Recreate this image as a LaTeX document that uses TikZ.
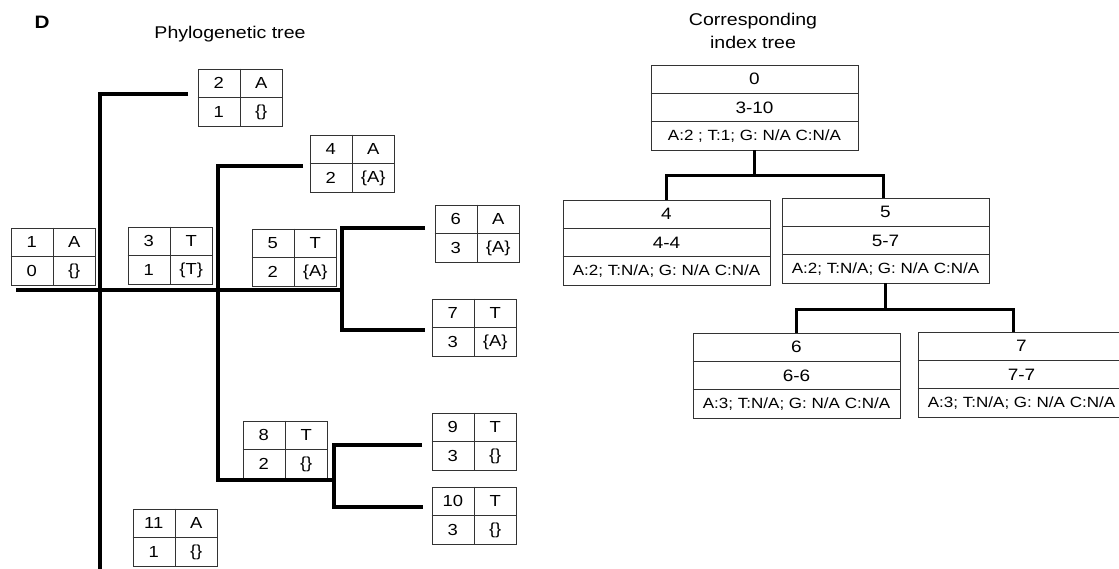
\documentclass[tikz,border=0pt]{standalone}
\usepackage{fontspec}
\setmainfont{Liberation Sans}[FakeStretch=1.15]
\usetikzlibrary{calc}
\tikzset{
  br/.style={line width=3.8pt, line join=miter},
  pb/.style={draw=black!80, line width=0.9pt, minimum width=84pt, minimum height=57pt, inner sep=0pt},
  ib/.style={draw=black!80, line width=0.9pt, minimum width=207pt, minimum height=85pt, inner sep=0pt},
  pbl/.style={draw=black!80, line width=0.9pt},
  ptx/.style={inner sep=0pt, font=\fontsize{16}{19}\selectfont},
  bigtx/.style={inner sep=0pt, font=\fontsize{16.5}{19}\selectfont},
  smtx/.style={inner sep=0pt, font=\fontsize{14.8}{17}\selectfont},
  ttl/.style={inner sep=0pt, align=center, font=\fontsize{17}{23}\selectfont}
}
\newcommand\pbox[7]{%
  \node[pb] (#1) at (#2+42,#3+28.5) {};
  \draw[pbl] (#1.north) -- (#1.south) (#1.west) -- (#1.east);
  \node[ptx] (#1-a) at ($(#1.north west)!0.5!(#1.center)$) {#4};
  \node[ptx] (#1-b) at ($(#1.north east)!0.5!(#1.center)$) {#5};
  \node[ptx] (#1-c) at ($(#1.south west)!0.5!(#1.center)$) {#6};
  \node[ptx] (#1-d) at ($(#1.south east)!0.5!(#1.center)$) {#7};
}
\newcommand\ibox[6]{%
  \node[ib] (#1) at (#2+103.5,#3+42.5) {};
  \draw[pbl] ($(#1.north west)!1/3!(#1.south west)$) -- ($(#1.north east)!1/3!(#1.south east)$)
             ($(#1.north west)!2/3!(#1.south west)$) -- ($(#1.north east)!2/3!(#1.south east)$);
  \node[bigtx] (#1-a) at ($(#1.north)!1/6!(#1.south)$) {#4};
  \node[bigtx] (#1-b) at ($(#1.north)!1/2!(#1.south)$) {#5};
  \node[smtx] (#1-c) at ($(#1.north)!5/6!(#1.south)$) {#6};
}
\begin{document}
\begin{tikzpicture}[x=1pt,y=-1pt]
\useasboundingbox (0,0) rectangle (1119,569);
% labels
\node[inner sep=0pt, font=\bfseries\fontsize{18}{21}\selectfont] (lblD) at (42,22) {D};
\node[ttl] (ttlP) at (230,34) {Phylogenetic tree};
\node[ttl] (ttlI) at (753,31) {Corresponding\\index tree};
% phylogenetic tree boxes
\pbox{p1}{11}{228}{1}{A}{0}{\{\}}
\pbox{p2}{198}{69}{2}{A}{1}{\{\}}
\pbox{p3}{128}{227}{3}{T}{1}{\{T\}}
\pbox{p4}{310}{135}{4}{A}{2}{\{A\}}
\pbox{p5}{252}{229}{5}{T}{2}{\{A\}}
\pbox{p6}{435}{205}{6}{A}{3}{\{A\}}
\pbox{p7}{432}{299}{7}{T}{3}{\{A\}}
\pbox{p8}{243}{421}{8}{T}{2}{\{\}}
\pbox{p9}{432}{413}{9}{T}{3}{\{\}}
\pbox{p10}{432}{487}{10}{T}{3}{\{\}}
\pbox{p11}{133}{509}{11}{A}{1}{\{\}}
% phylogenetic tree branches
\coordinate (r0) at (16,290);
\coordinate (j3) at (342,290);
\coordinate (e2) at (188,94);
\coordinate (v1t) at (100,94);
\coordinate (v1b) at (100,575);
\coordinate (e4) at (303,166);
\coordinate (v2t) at (218,166);
\coordinate (v2b) at (218,480);
\coordinate (j8) at (334,480);
\coordinate (e6) at (425,228);
\coordinate (v3t) at (342,228);
\coordinate (v3b) at (342,330);
\coordinate (e7) at (425,330);
\coordinate (e9) at (422,445);
\coordinate (v4t) at (334,445);
\coordinate (v4b) at (334,507);
\coordinate (e10) at (423,507);
\draw[br] (r0) -- (j3);
\draw[br] (e2) -- (v1t) -- (v1b);
\draw[br] (e4) -- (v2t) -- (v2b) -- (j8);
\draw[br] (e6) -- (v3t) -- (v3b) -- (e7);
\draw[br] (e9) -- (v4t) -- (v4b) -- (e10);
% index tree
\ibox{i0}{651}{65}{0}{3-10}{A:2 ; T:1; G: N/A C:N/A}
\ibox{i4}{563}{200}{4}{4-4}{A:2; T:N/A; G: N/A C:N/A}
\ibox{i5}{782}{198}{5}{5-7}{A:2; T:N/A; G: N/A C:N/A}
\ibox{i6}{693}{333}{6}{6-6}{A:3; T:N/A; G: N/A C:N/A}
\ibox{i7}{918}{332}{7}{7-7}{A:3; T:N/A; G: N/A C:N/A}
\draw[br] (i0.south) -- ++(0,25) -| (i4.north);
\draw[br] (i0.south) -- ++(0,25) -| ($(i5.north)+(-2,0)$);
\draw[br] (i5.south) -- ++(0,26) -| (i6.north);
\draw[br] (i5.south) -- ++(0,26) -| ($(i7.north)+(-8,0)$);
\end{tikzpicture}
\end{document}
